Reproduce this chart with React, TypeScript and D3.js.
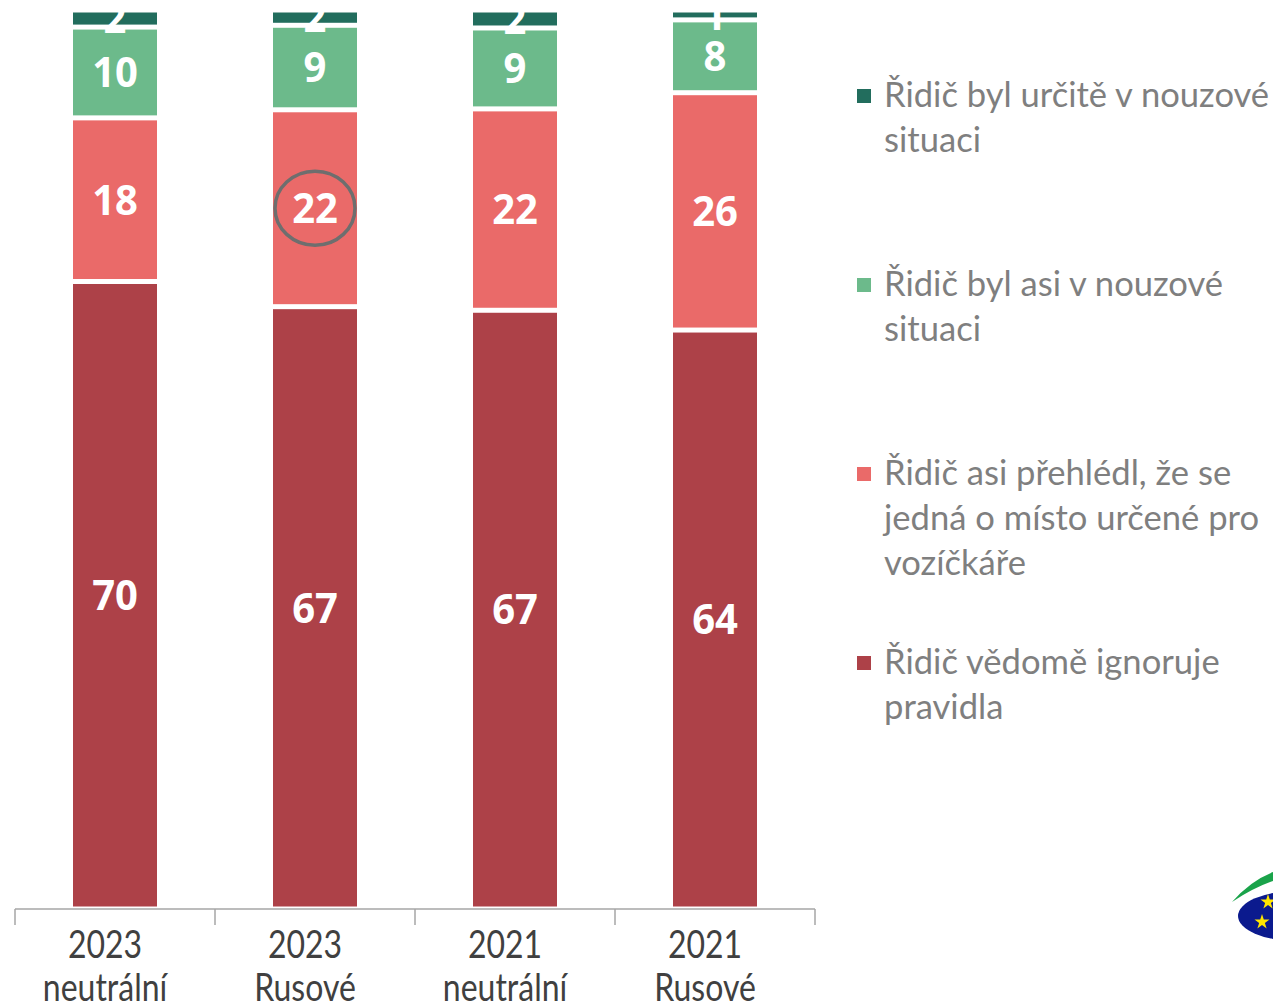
import React from "react";
import * as d3 from "d3";

const categoryYears = ["2023", "2023", "2021", "2021"];
const categoryVariants = ["neutrální", "Rusové", "neutrální", "Rusové"];

// series (bottom to top)
const ignoruje = [69.8, 67.0, 66.6, 64.4];
const prehledl = [18.2, 21.9, 22.4, 26.4];
const asiNouzove = [10.1, 9.4, 9.0, 8.1];
const urciteNouzove = [1.9, 1.7, 2.0, 1.1];

const seriesKeys = ["ignoruje", "prehledl", "asi", "urcite"];
const seriesColors = ["#ad4148", "#ea6a69", "#6cba8b", "#226d5d"];
const legendLines = [
  ["Řidič byl určitě v nouzové", "situaci"],
  ["Řidič byl asi v nouzové", "situaci"],
  ["Řidič asi přehlédl, že se", "jedná o místo určené pro", "vozíčkáře"],
  ["Řidič vědomě ignoruje", "pravidla"],
];
const legendColors = ["#226d5d", "#6cba8b", "#ea6a69", "#ad4148"];

const W = 1273;
const H = 1005;
const FONT = "Lato, 'Open Sans', sans-serif";
const LABEL_FONT = "'Noto Sans', 'Open Sans', sans-serif";

export default function App() {
  const cats = categoryYears.map((y, i) => `${y} ${categoryVariants[i]}`);
  const rows = cats.map((c, i) => ({
    cat: c,
    ignoruje: ignoruje[i],
    prehledl: prehledl[i],
    asi: asiNouzove[i],
    urcite: urciteNouzove[i],
  }));
  const stack = d3.stack<any>().keys(seriesKeys)(rows);

  const x = d3.scaleBand().domain(cats).range([15, 815]).paddingInner(0.58).paddingOuter(0.29);
  const y = d3.scaleLinear().domain([0, 100]).range([909, 10]);
  const bw = x.bandwidth();
  const gap = 2.5;
  const step = x.step();
  const boundaries = d3.range(cats.length + 1).map((i) => 15 + i * step);

  const star = d3.symbol().type(d3.symbolStar).size(70)();

  // highlighted label: 2nd category, 2nd series
  const hlSeg = stack[1][1];
  const hlX = (x(cats[1]) as number) + bw / 2;
  const hlY = (y(hlSeg[0]) + y(hlSeg[1])) / 2;

  return (
    <svg
      width={W}
      height={H}
      style={{ position: "absolute", left: 0, top: 0, background: "#fff" }}
    >
      {stack.map((s, si) => (
        <g key={si} fill={seriesColors[si]}>
          {s.map((d, i) => {
            const top = y(d[1]) + gap;
            const bottom = y(d[0]) - gap;
            return (
              <rect
                key={i}
                x={x(cats[i])}
                y={top}
                width={bw}
                height={Math.max(0, bottom - top)}
              />
            );
          })}
        </g>
      ))}
      {stack.map((s, si) => (
        <g key={"l" + si}>
          {s.map((d, i) => {
            const cx = (x(cats[i]) as number) + bw / 2;
            const cy = (y(d[0]) + y(d[1])) / 2;
            return (
              <text
                key={i}
                transform={`translate(${cx},${cy}) scale(1,1.03)`}
                textAnchor="middle"
                dy="0.36em"
                fill="#fff"
                fontFamily={LABEL_FONT}
                fontWeight={700}
                fontSize={40}
              >
                {Math.round(d[1] - d[0])}
              </text>
            );
          })}
        </g>
      ))}
      <ellipse cx={hlX} cy={hlY} rx={40} ry={37} fill="none" stroke="#6e6e6e" strokeWidth={3.5} />

      {/* x axis */}
      <line x1={15} x2={815} y1={909} y2={909} stroke="#a6a6a6" strokeWidth={1.5} />
      {boundaries.map((bx, i) => (
        <line key={i} x1={bx} x2={bx} y1={909} y2={925} stroke="#a6a6a6" strokeWidth={1.5} />
      ))}
      {cats.map((c, i) => {
        const cx = (x(c) as number) + bw / 2 - 10;
        return (
          <g key={c} fill="#404040" fontFamily={FONT} fontSize={32}>
            <text transform={`translate(${cx},958) scale(1,1.2)`} textAnchor="middle">
              {categoryYears[i]}
            </text>
            <text transform={`translate(${cx},1001) scale(1,1.2)`} textAnchor="middle">
              {categoryVariants[i]}
            </text>
          </g>
        );
      })}

      {/* legend */}
      {legendLines.map((lines, i) => {
        const base = 107 + i * 189;
        return (
          <g key={i}>
            <rect x={857} y={base - 18} width={14} height={14} fill={legendColors[i]} />
            {lines.map((t, j) => (
              <text
                key={j}
                x={884}
                y={base + j * 45}
                fill="#7f7f7f"
                fontFamily={FONT}
                fontSize={34.6}
              >
                {t}
              </text>
            ))}
          </g>
        );
      })}

      {/* logo fragment */}
      <g>
        <path d="M1232,902 Q1250,881 1273,872 L1273,881 Q1253,888 1232,902 Z" fill="#1aa34a" />
        <ellipse cx={1296} cy={916} rx={58} ry={25} fill="#0b1a8e" />
        <path d={star as string} transform="translate(1268,902)" fill="#ffe600" />
        <path d={star as string} transform="translate(1262,922)" fill="#ffe600" />
      </g>
    </svg>
  );
}
